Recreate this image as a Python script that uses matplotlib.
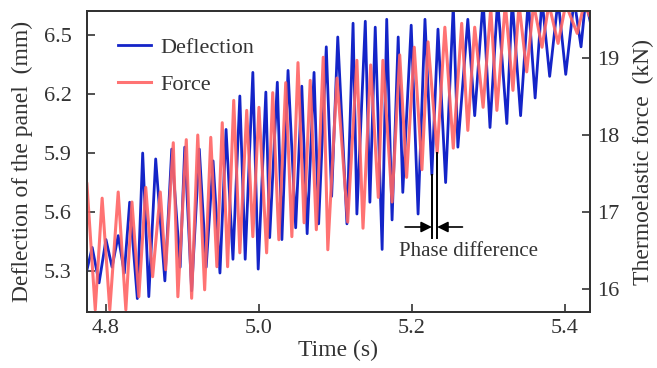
import matplotlib
matplotlib.use('Agg')
import matplotlib.pyplot as plt

plt.rcParams['font.family'] = ['Liberation Serif', 'DejaVu Serif']
plt.rcParams['mathtext.fontset'] = 'stix'

# ================= DATA (peaks / troughs) =================
# deflection of the panel (mm), left axis
defl_t = [4.773, 4.782, 4.791, 4.800, 4.808, 4.816, 4.824, 4.831, 4.841, 4.848,
          4.856, 4.865, 4.877, 4.886, 4.897, 4.903, 4.912, 4.922, 4.931, 4.940,
          4.949, 4.957, 4.966, 4.975, 4.982, 4.992, 4.999, 5.009, 5.014, 5.024,
          5.030, 5.038, 5.048, 5.056, 5.063, 5.072, 5.078, 5.088, 5.095, 5.103,
          5.115, 5.123, 5.128, 5.139, 5.145, 5.152, 5.161, 5.167, 5.174, 5.182,
          5.188, 5.199, 5.208, 5.217, 5.226, 5.234, 5.244, 5.254, 5.260, 5.273,
          5.282, 5.293, 5.302, 5.312, 5.324, 5.331, 5.342, 5.352, 5.361, 5.370,
          5.380, 5.391, 5.401, 5.412, 5.421, 5.427, 5.435]
defl_v = [5.27, 5.42, 5.24, 5.46, 5.32, 5.48, 5.29, 5.65, 5.16, 5.90,
          5.17, 5.87, 5.25, 5.92, 5.32, 5.93, 5.20, 5.92, 5.32, 5.86,
          5.29, 6.02, 5.36, 6.19, 5.36, 6.31, 5.31, 6.21, 5.47, 6.26,
          5.46, 6.32, 5.52, 6.24, 5.49, 6.31, 5.54, 6.44, 5.68, 6.49,
          5.54, 6.56, 5.59, 6.57, 5.65, 6.54, 5.41, 6.58, 5.56, 6.49,
          5.70, 6.55, 5.59, 6.58, 5.79, 6.53, 5.75, 6.65, 5.93, 6.58,
          6.09, 6.68, 6.03, 6.68, 6.05, 6.68, 6.09, 6.68, 6.18, 6.68,
          6.29, 6.68, 6.30, 6.68, 6.44, 6.68, 6.53]

# thermoelastic force (kN), right axis
force_t = [4.773, 4.775, 4.786, 4.795, 4.805, 4.816, 4.826, 4.834, 4.843, 4.852,
           4.861, 4.871, 4.878, 4.888, 4.894, 4.905, 4.912, 4.920, 4.929, 4.937,
           4.945, 4.952, 4.959, 4.967, 4.975, 4.984, 4.992, 5.000, 5.010, 5.018,
           5.026, 5.035, 5.043, 5.051, 5.059, 5.067, 5.075, 5.084, 5.090, 5.102,
           5.116, 5.128, 5.136, 5.146, 5.156, 5.162, 5.174, 5.184, 5.193, 5.203,
           5.213, 5.221, 5.233, 5.243, 5.254, 5.265, 5.273, 5.282, 5.293, 5.303,
           5.311, 5.322, 5.332, 5.340, 5.350, 5.359, 5.370, 5.379, 5.391, 5.401,
           5.416, 5.425, 5.435]
force_v = [16.64, 17.38, 15.73, 17.18, 15.73, 17.26, 15.73, 17.13, 15.90, 17.32,
           16.16, 17.26, 16.25, 17.90, 15.90, 17.94, 15.88, 18.00, 15.99, 17.97,
           16.29, 18.16, 16.29, 18.45, 16.47, 18.32, 16.68, 18.36, 16.47, 18.55,
           16.64, 18.68, 16.68, 18.94, 16.86, 18.71, 16.77, 19.01, 16.51, 18.74,
           16.87, 18.97, 16.79, 18.91, 17.19, 18.97, 17.13, 19.04, 17.45, 19.14,
           17.55, 19.21, 17.77, 19.40, 17.83, 19.45, 18.06, 19.40, 18.36, 19.65,
           18.32, 19.70, 18.58, 19.70, 18.82, 19.70, 19.14, 19.70, 19.19, 19.70,
           19.32, 19.70, 19.49]

x_ticks = [4.8, 5.0, 5.2, 5.4]
defl_ticks = [5.3, 5.6, 5.9, 6.2, 6.5]
force_ticks = [16, 17, 18, 19]

# trough pair used for the phase difference marker
i_defl = 54
i_force = 52

# ================= FIGURE =================
blue = '#1424c8'
red = '#ff6464'
fs = 16
grey = '#333333'

fig = plt.figure(figsize=(6.57, 3.68), dpi=100)
ax = fig.add_axes([0.1324, 0.152, 0.7656, 0.818])
ax2 = ax.twinx()

ln1, = ax.plot(defl_t, defl_v, color=blue, lw=2.0, label='Deflection', zorder=3)
ln2, = ax2.plot(force_t, force_v, color=red, lw=2.2, alpha=0.9, label='Force')

ax.set_xlim(4.7752, 5.4327)
ax.set_ylim(5.0915, 6.622)
ax2.set_ylim(15.701, 19.610)

ax.set_xticks(x_ticks)
ax.set_xticklabels([f'{v:.1f}' for v in x_ticks])
ax.set_yticks(defl_ticks)
ax.set_yticklabels([f'{v:.1f}' for v in defl_ticks])
ax2.set_yticks(force_ticks)
ax2.set_yticklabels([str(v) for v in force_ticks])

ax.tick_params(axis='x', direction='in', labelsize=fs, length=6, width=1.2,
               colors=grey, labelcolor=grey, pad=5)
ax.tick_params(axis='y', direction='in', labelsize=fs, length=6, width=1.2,
               colors=grey, labelcolor=grey, pad=11)
ax2.tick_params(axis='y', direction='in', labelsize=fs, length=6, width=1.2,
                colors=grey, labelcolor=grey, pad=5)
for a in (ax, ax2):
    for s in a.spines.values():
        s.set_linewidth(1.4)
        s.set_color(grey)

ax.set_xlabel('Time (s)', fontsize=17, color=grey, labelpad=1)
ax.set_ylabel('Deflection of the panel  (mm)', fontsize=17, color=grey, labelpad=8)
ax2.set_ylabel('Thermoelastic force  (kN)', fontsize=17, color=grey, labelpad=10)

ax.legend(handles=[ln1, ln2], loc='upper left', bbox_to_anchor=(0.022, 0.98),
          frameon=False, fontsize=fs, handlelength=1.5, handletextpad=0.4,
          labelspacing=0.75, labelcolor=grey)

# ---- phase difference marker ----
y_base = 5.47
t_b = defl_t[i_defl]
t_f = force_t[i_force]
d_lo, d_hi = ax.get_ylim()
f_lo, f_hi = ax2.get_ylim()
f_base = f_lo + (y_base - d_lo) / (d_hi - d_lo) * (f_hi - f_lo)
ax.plot([t_b, t_b], [defl_v[i_defl], y_base], color='black', lw=1.4, zorder=5)
ax2.plot([t_f, t_f], [force_v[i_force], f_base], color='black', lw=1.4, zorder=5)

y_arr = 5.524
ax.annotate('', xy=(t_b, y_arr), xytext=(t_b - 0.035, y_arr),
            arrowprops=dict(arrowstyle='-|>', color='black', lw=1.2,
                            mutation_scale=16, shrinkA=0, shrinkB=0))
ax.annotate('', xy=(t_f, y_arr), xytext=(t_f + 0.033, y_arr),
            arrowprops=dict(arrowstyle='-|>', color='black', lw=1.2,
                            mutation_scale=16, shrinkA=0, shrinkB=0))
ax.text(0.5 * (t_b + t_f) + 0.045, 5.40, 'Phase difference', fontsize=15,
        color=grey, ha='center', va='center')

fig.savefig('out.png', dpi=100)
